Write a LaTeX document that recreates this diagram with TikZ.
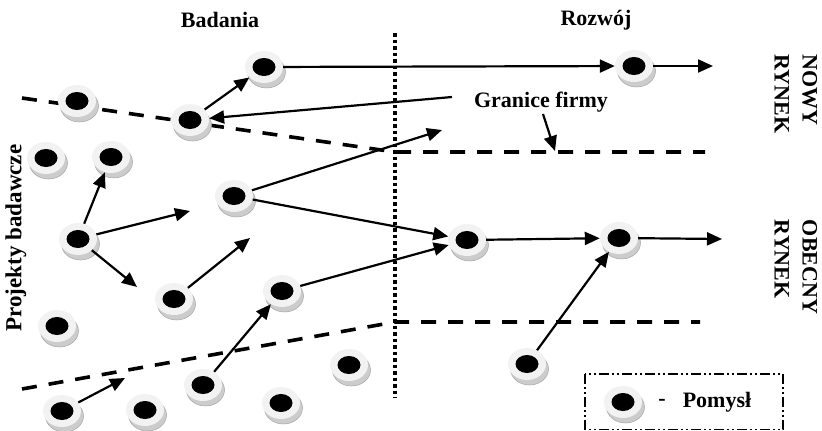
\documentclass[tikz,border=0pt]{standalone}
\usepackage{fontspec}
\setmainfont{Liberation Serif}
\usetikzlibrary{shapes.geometric,arrows.meta,shadows}

\tikzset{
  idea/.style={ellipse, minimum width=38pt, minimum height=32pt, inner sep=0pt,
    fill=gray!10,
    general shadow={shadow xshift=2.5pt, shadow yshift=-5pt, fill=gray!40, draw=gray!70, line width=0.5pt},
    path picture={\fill[black] (path picture bounding box.center) ellipse [x radius=11.5pt, y radius=9pt];}},
  conn/.style={line width=2.2pt, -{Triangle[length=15pt,width=13pt]}},
  border/.style={line width=3.6pt, dash pattern=on 15pt off 12pt},
  divider/.style={line width=3.5pt, dash pattern=on 3.5pt off 3pt},
  legendbox/.style={line width=1.6pt, dash pattern=on 10pt off 3pt on 2pt off 3pt on 2pt off 3pt},
  lbl/.style={font=\bfseries\fontsize{22}{28}\selectfont, inner sep=0pt},
}

\begin{document}
\begin{tikzpicture}[x=1pt, y=-1pt]
\useasboundingbox (0,0) rectangle (822,431);

% titles
\node[lbl] (tb) at (220,20) {Badania};
\node[lbl] (tr) at (596,20) {Rozwój};
\node[lbl, rotate=-90, align=left] (tn) at (796,94) {NOWY\\RYNEK};
\node[lbl, rotate=-90, align=left] (to) at (796,267) {OBECNY\\RYNEK};
\node[lbl, rotate=90, font=\bfseries\fontsize{23}{28}\selectfont] (tp) at (16,238) {Projekty badawcze};
\node[lbl] (tg) at (541,102) {Granice firmy};

% company boundaries and research / development divider
\coordinate (b1) at (22,98);
\coordinate (b2) at (395,152);
\coordinate (b3) at (705,152);
\coordinate (b4) at (22,389);
\coordinate (b5) at (395,322);
\coordinate (b6) at (700,322);
\draw[border] (b1) -- (b2) -- (b3);
\draw[border] (b4) -- (b5) -- (b6);
\coordinate (d1) at (395,33);
\coordinate (d2) at (395,398);
\draw[divider] (d1) -- (d2);

% ideas
\node[idea] (n1) at (264,67) {};
\node[idea] (n2) at (634,66) {};
\node[idea] (n3) at (77,101) {};
\node[idea] (n4) at (190,120) {};
\node[idea] (n5) at (46,158) {};
\node[idea] (n6) at (111,157) {};
\node[idea] (n7) at (234,196) {};
\node[idea] (n8) at (78,239) {};
\node[idea] (n9) at (467,240) {};
\node[idea] (n10) at (619,238) {};
\node[idea] (n11) at (174,299) {};
\node[idea] (n12) at (282,291) {};
\node[idea] (n13) at (57,326) {};
\node[idea] (n14) at (527,364) {};
\node[idea] (n15) at (349,365) {};
\node[idea] (n16) at (203,385) {};
\node[idea] (n17) at (62,411) {};
\node[idea] (n18) at (145,410) {};
\node[idea] (n19) at (281,403) {};

% free ends
\coordinate (c2) at (713,66);
\coordinate (g1) at (452,97);
\coordinate (g2) at (543,114);
\coordinate (g3) at (555,151);
\coordinate (c7) at (442,130);
\coordinate (c10) at (722,239);
\coordinate (c8a) at (190,211);
\coordinate (c8b) at (137,287);
\coordinate (c11) at (250,238);
\coordinate (c17) at (125,378);

% flows
\draw[conn] (n4) -- (n1);
\draw[conn] (n1) -- (n2);
\draw[conn] (n2) -- (c2);
\draw[conn] (g1) -- (n4);
\draw[conn] (g2) -- (g3);
\draw[conn] (n7) -- (c7);
\draw[conn] (n7) -- (n9);
\draw[conn] (n12) -- (n9);
\draw[conn] (n9) -- (n10);
\draw[conn] (n10) -- (c10);
\draw[conn] (n14) -- (n10);
\draw[conn] (n8) -- (n6);
\draw[conn] (n8) -- (c8a);
\draw[conn] (n8) -- (c8b);
\draw[conn] (n11) -- (c11);
\draw[conn] (n16) -- (n12);
\draw[conn] (n17) -- (c17);

% legend
\coordinate (l1) at (585,374);
\coordinate (l2) at (783,429.5);
\draw[legendbox] (l1) rectangle (l2);
\node[idea] (lg) at (623,402) {};
\node[lbl] (ldash) at (662,402) {-};
\node[lbl] (lt) at (717,402) {Pomysł};
\end{tikzpicture}
\end{document}
